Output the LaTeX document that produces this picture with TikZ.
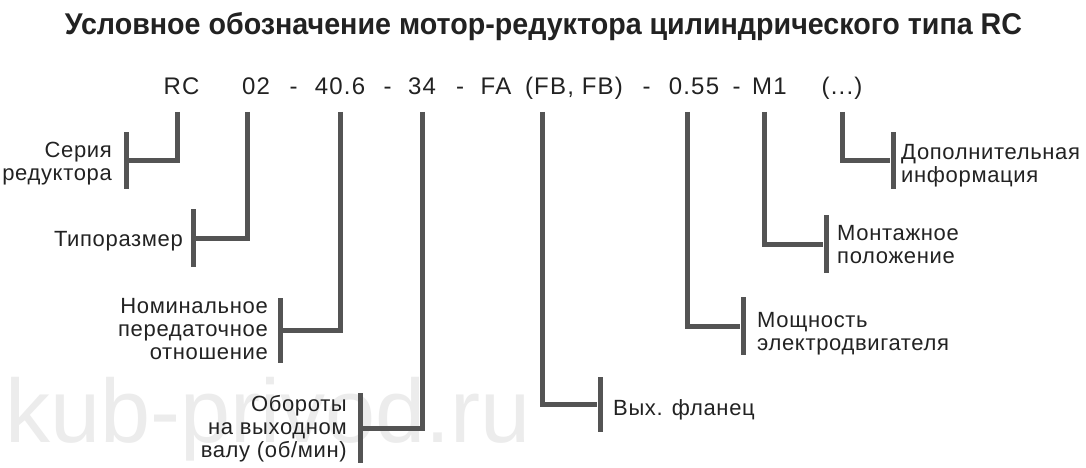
\documentclass[tikz,border=0pt]{standalone}
\usepackage{fontspec}
\setmainfont{Liberation Sans}
\usepackage{graphicx}
\definecolor{ln}{RGB}{84,84,84}
\definecolor{tx}{RGB}{34,34,34}
\definecolor{wm}{RGB}{236,236,236}
\begin{document}
\begin{tikzpicture}[x=1pt,y=-1pt,
  conn/.style={draw=ln,line width=5pt,line join=miter},
  bar/.style={fill=ln,draw=none,inner sep=0pt,minimum width=5pt},
  code/.style={inner sep=0pt,anchor=base,font=\fontsize{24}{24}\selectfont\addfontfeatures{LetterSpace=5},text=tx},
  labr/.style={inner sep=0pt,anchor=base east,align=right,font=\fontsize{22}{23}\selectfont\addfontfeatures{LetterSpace=3},text=tx},
  labl/.style={inner sep=0pt,anchor=base west,align=left,font=\fontsize{22}{23}\selectfont\addfontfeatures{LetterSpace=3},text=tx}]
\useasboundingbox[fill=white] (0,0) rectangle (1086,468);
% watermark
\node[inner sep=0pt,anchor=base west,text=wm,font=\fontsize{90}{90}\selectfont] (wmk) at (5,442) {kub-privod.ru};
% title
\node[inner sep=0pt,anchor=base,text=tx] (title) at (543.5,35) {\resizebox{957pt}{22pt}{\bfseries Условное обозначение мотор-редуктора цилиндрического типа RC}};
% code line
\node[code] (rc) at (181.5,95) {RC};
\node[code] (c02) at (256,95) {02};
\node[code] (d1) at (293.5,95) {-};
\node[code] (c406) at (340,95) {40.6};
\node[code] (d2) at (387.5,95) {-};
\node[code] (c34) at (422,95) {34};
\node[code] (d3) at (460,95) {-};
\node[code] (cfa) at (496,95) {FA};
\node[code] (cfb) at (574,95) {(FB, FB)};
\node[code] (d4) at (646.5,95) {-};
\node[code] (c055) at (694,95) {0.55};
\node[code] (d5) at (736.5,95) {-};
\node[code] (cm1) at (769.5,95) {M1};
\node[code] (cdots) at (842,95) {(...)};
% tops of connectors
\coordinate (t1) at (177,112);
\coordinate (t2) at (247,112);
\coordinate (t3) at (340,112);
\coordinate (t4) at (422,112);
\coordinate (t5) at (542,112);
\coordinate (t6) at (687,112);
\coordinate (t7) at (764,112);
\coordinate (t8) at (842,112);
% bars
\node[bar,minimum height=57pt] (b1) at (126,160.5) {};
\node[bar,minimum height=58pt] (b2) at (193,238) {};
\node[bar,minimum height=65pt] (b3) at (280,330.5) {};
\node[bar,minimum height=70pt] (b4) at (360,428) {};
\node[bar,minimum height=55pt] (b5) at (600,404.5) {};
\node[bar,minimum height=58pt] (b6) at (743,326) {};
\node[bar,minimum height=58pt] (b7) at (826,244) {};
\node[bar,minimum height=57pt] (b8) at (893,160.5) {};
% labels (anchor = baseline of last line)
\node[labr] (l1) at (112,180) {Серия\\редуктора};
\node[labr] (l2) at (183,246) {Типоразмер};
\node[labr] (l3) at (268,359) {Номинальное\\передаточное\\отношение};
\node[labr] (l4) at (347,457) {Обороты\\на выходном\\валу (об/мин)};
\node[labl] (l5) at (613,415) {Вых. фланец};
\node[labl] (l6) at (757,350) {Мощность\\электродвигателя};
\node[labl] (l7) at (837,263) {Монтажное\\положение};
\node[labl] (l8) at (901,182) {Дополнительная\\информация};
% connectors
\draw[conn] (t1) |- (b1);
\draw[conn] (t2) |- (b2);
\draw[conn] (t3) |- (b3);
\draw[conn] (t4) |- (b4);
\draw[conn] (t5) |- (b5);
\draw[conn] (t6) |- (b6);
\draw[conn] (t7) |- (b7);
\draw[conn] (t8) |- (b8);
\end{tikzpicture}
\end{document}
